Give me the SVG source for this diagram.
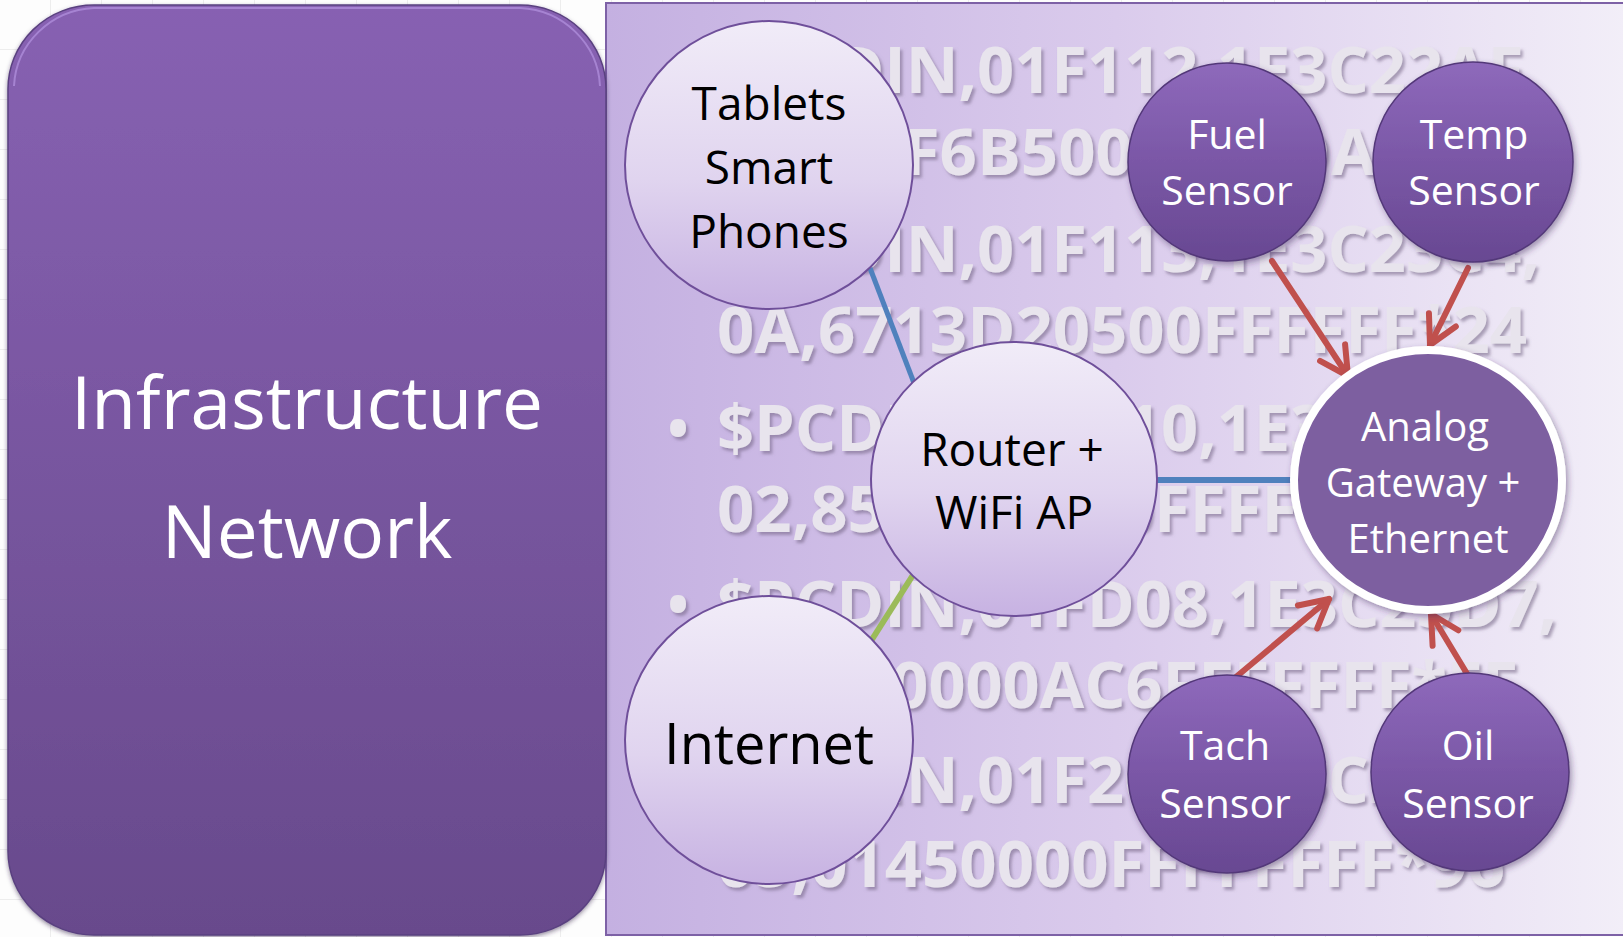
<svg xmlns="http://www.w3.org/2000/svg" width="1623" height="937" viewBox="0 0 1623 937">
  <defs>
    <style>
      .lbl { font-family: "Open Sans", "Noto Sans", "Liberation Sans", sans-serif; text-anchor: middle; }
      .dark { fill: #000000; font-size: 46px; }
      .big { font-size: 56px; }
      .light { fill: #ffffff; font-size: 41px; }
      .gw { font-size: 40px; }
      .log { font-family: "Open Sans", "Noto Sans", "Liberation Sans", sans-serif; font-weight: 700; font-size: 64px; fill: #e8e4ed; }
      .bullet { font-family: "Open Sans", "Liberation Sans", sans-serif; font-size: 76px; fill: #e8e4ed; text-anchor: middle; }
      .soft { fill: url(#softFill); stroke: #6f4f9a; stroke-width: 2; }
      .sensor { fill: url(#sensorFill); stroke: #533879; stroke-width: 1.5; filter: url(#nodeShadow); }
      .link { fill: none; stroke-linecap: butt; }
      .flow { fill: none; stroke: #c0504d; stroke-width: 6; stroke-linecap: round; marker-end: url(#openHead); }
    </style>
    <pattern id="sheetGrid" width="51" height="50" patternUnits="userSpaceOnUse">
      <rect width="51" height="50" fill="#fdfdfd"/>
      <path d="M51 0 V50 M0 50 H51" fill="none" stroke="#dedede" stroke-width="1"/>
    </pattern>
    <linearGradient id="panelFill" x1="0" y1="0" x2="1" y2="0">
      <stop offset="0" stop-color="#c4b0e1"/>
      <stop offset="0.5" stop-color="#dacbec"/>
      <stop offset="1" stop-color="#f2eef8"/>
    </linearGradient>
    <linearGradient id="infraFill" x1="0" y1="0" x2="0" y2="1">
      <stop offset="0" stop-color="#8761b2"/>
      <stop offset="1" stop-color="#684a8c"/>
    </linearGradient>
    <linearGradient id="softFill" x1="0" y1="0" x2="0" y2="1">
      <stop offset="0" stop-color="#f1ecf8"/>
      <stop offset="0.55" stop-color="#e0d4ef"/>
      <stop offset="1" stop-color="#c7b2e2"/>
    </linearGradient>
    <linearGradient id="sensorFill" x1="0" y1="0" x2="0" y2="1">
      <stop offset="0" stop-color="#8e69bb"/>
      <stop offset="0.5" stop-color="#7a57a6"/>
      <stop offset="1" stop-color="#684892"/>
    </linearGradient>
    <filter id="logShadow" x="-5%" y="-30%" width="110%" height="160%">
      <feDropShadow dx="2.5" dy="3" stdDeviation="1.6" flood-color="#6f6282" flood-opacity="0.55"/>
    </filter>
    <filter id="nodeShadow" x="-20%" y="-20%" width="140%" height="140%">
      <feDropShadow dx="2" dy="3" stdDeviation="3" flood-color="#3a2756" flood-opacity="0.45"/>
    </filter>
    <filter id="boxShadow" x="-5%" y="-5%" width="110%" height="110%">
      <feDropShadow dx="0" dy="2" stdDeviation="2" flood-color="#2e1f44" flood-opacity="0.5"/>
    </filter>
    <marker id="openHead" markerUnits="userSpaceOnUse" viewBox="-36 -20 40 40" markerWidth="40" markerHeight="40" refX="0" refY="0" orient="auto" overflow="visible">
      <path d="M-28,-15 L0,0 L-28,15" fill="none" stroke="#c0504d" stroke-width="6" stroke-linecap="round" stroke-linejoin="round"/>
    </marker>
  </defs>

  <!-- worksheet backdrop -->
  <rect x="0" y="0" width="1623" height="937" fill="url(#sheetGrid)"/>

  <!-- vessel network panel -->
  <rect id="panel" x="606" y="3" width="1020" height="932" fill="url(#panelFill)" stroke="#7d61a6" stroke-width="2"/>

  <!-- NMEA 2000 sentence log behind the nodes -->
  <g id="nmea-log" filter="url(#logShadow)">
    <text class="bullet" x="678" y="98">•</text>
    <text class="log" x="717" y="93" textLength="825" lengthAdjust="spacingAndGlyphs">$PCDIN,01F112,1E3C22AF,</text>
    <text class="log" x="717" y="175" textLength="845" lengthAdjust="spacingAndGlyphs">0A,2DF6B5000000DAFF*4C</text>
    <text class="bullet" x="678" y="277">•</text>
    <text class="log" x="717" y="272" textLength="823" lengthAdjust="spacingAndGlyphs">$PCDIN,01F113,1E3C23C4,</text>
    <text class="log" x="717" y="353" textLength="810" lengthAdjust="spacingAndGlyphs">0A,6713D20500FFFFFF*24</text>
    <text class="bullet" x="678" y="456">•</text>
    <text class="log" x="717" y="451" textLength="825" lengthAdjust="spacingAndGlyphs">$PCDIN,01F210,1E3C24B0,</text>
    <text class="log" x="717" y="532" textLength="809" lengthAdjust="spacingAndGlyphs">02,850000A00FFFFFFF*3D</text>
    <text class="bullet" x="678" y="632">•</text>
    <text class="log" x="717" y="627" textLength="840" lengthAdjust="spacingAndGlyphs">$PCDIN,01FD08,1E3C25D7,</text>
    <text class="log" x="717" y="708" textLength="801" lengthAdjust="spacingAndGlyphs">0A,020000AC6FFFFFFF*FF</text>
    <text class="bullet" x="678" y="808">•</text>
    <text class="log" x="717" y="803" textLength="823" lengthAdjust="spacingAndGlyphs">$PCDIN,01F200,1E3C26C3,</text>
    <text class="log" x="717" y="887" textLength="788" lengthAdjust="spacingAndGlyphs">05,01450000FFFFFFFF*96</text>
  </g>

  <!-- connectors -->
  <g id="connectors">
    <line class="link" x1="870" y1="268" x2="914" y2="383" stroke="#4f81bd" stroke-width="5"/>
    <line class="link" x1="1156" y1="480" x2="1293" y2="480" stroke="#4f81bd" stroke-width="6"/>
    <line class="link" x1="913" y1="575" x2="871" y2="641" stroke="#9bbb59" stroke-width="6"/>
    <line class="flow" x1="1272" y1="261" x2="1348" y2="376"/>
    <line class="flow" x1="1468" y1="268" x2="1430" y2="345"/>
    <line class="flow" x1="1236" y1="677" x2="1329" y2="599"/>
    <line class="flow" x1="1475" y1="687" x2="1431" y2="614"/>
  </g>

  <!-- infrastructure block -->
  <g id="infrastructure">
    <rect x="8" y="5" width="598" height="930" rx="86" ry="84" fill="url(#infraFill)" stroke="#5a4180" stroke-width="1.5" filter="url(#boxShadow)"/>
    <path d="M14,86 A84,82 0 0 1 94,8 H520 A84,82 0 0 1 600,86" fill="none" stroke="#b393e0" stroke-width="2" opacity="0.7"/>
    <text class="lbl" x="307" y="429" fill="#ffffff" font-size="73">Infrastructure</text>
    <text class="lbl" x="307" y="558" fill="#ffffff" font-size="73">Network</text>
  </g>

  <g id="tablets">
    <circle class="soft" cx="769" cy="165" r="144"/>
    <text class="lbl dark" x="769" y="120">Tablets</text>
    <text class="lbl dark" x="769" y="184">Smart</text>
    <text class="lbl dark" x="769" y="248">Phones</text>
  </g>

  <g id="router">
    <ellipse class="soft" cx="1014" cy="479" rx="143" ry="137"/>
    <text class="lbl dark" x="1012" y="466">Router +</text>
    <text class="lbl dark" x="1014" y="529">WiFi AP</text>
  </g>

  <g id="internet">
    <circle class="soft" cx="769" cy="740" r="144"/>
    <text class="lbl dark big" x="769" y="764">Internet</text>
  </g>

  <g id="gateway">
    <ellipse cx="1428" cy="480" rx="134" ry="130" fill="#7d5fa0" stroke="#ffffff" stroke-width="8" filter="url(#nodeShadow)"/>
    <text class="lbl light gw" x="1425" y="441">Analog</text>
    <text class="lbl light gw" x="1423" y="497">Gateway +</text>
    <text class="lbl light gw" x="1428" y="553">Ethernet</text>
  </g>

  <g id="fuel-sensor">
    <circle class="sensor" cx="1227" cy="162" r="99"/>
    <text class="lbl light" x="1227" y="149">Fuel</text>
    <text class="lbl light" x="1227" y="205">Sensor</text>
  </g>

  <g id="temp-sensor">
    <circle class="sensor" cx="1473" cy="162" r="100"/>
    <text class="lbl light" x="1474" y="149">Temp</text>
    <text class="lbl light" x="1474" y="205">Sensor</text>
  </g>

  <g id="tach-sensor">
    <circle class="sensor" cx="1227" cy="774" r="99"/>
    <text class="lbl light" x="1225" y="760">Tach</text>
    <text class="lbl light" x="1225" y="818">Sensor</text>
  </g>

  <g id="oil-sensor">
    <circle class="sensor" cx="1470" cy="772" r="99"/>
    <text class="lbl light" x="1468" y="760">Oil</text>
    <text class="lbl light" x="1468" y="818">Sensor</text>
  </g>
</svg>
